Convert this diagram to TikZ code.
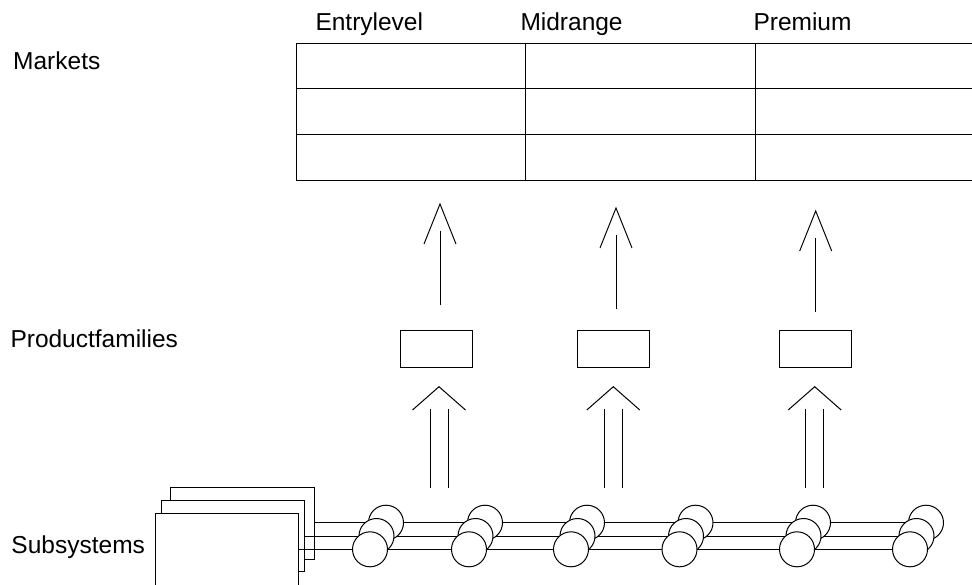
\documentclass[tikz,border=0pt]{standalone}
\usepackage{fontspec}
\setmainfont{Liberation Sans}
\begin{document}
\begin{tikzpicture}[x=1pt,y=-1pt,line width=1pt,
  lbl/.style={anchor=base west,inner sep=0pt,font=\fontsize{24.5}{29}\selectfont},
  cell/.style={draw,anchor=north west,inner sep=0pt},
  pbox/.style={draw,anchor=north west,inner sep=0pt,minimum width=72pt,minimum height=36.7pt},
  sbox/.style={draw,fill=white,anchor=north west,inner sep=0pt},
  gear/.style={draw,fill=white,circle,inner sep=0pt,minimum size=35pt},
  shaft/.style={line width=1pt},
  chev/.style={line width=1pt,line join=miter}]
\useasboundingbox (0,0) rectangle (972,584);
\clip (0,0) rectangle (972,584);

% labels
\node[lbl] (markets) at (12.7,69.3) {Markets};
\node[lbl] (pfam) at (10,347.3) {Productfamilies};
\node[lbl] (subs) at (11,553.3) {Subsystems};
\node[lbl] (entry) at (315,30.7) {Entrylevel};
\node[lbl] (mid) at (520,30.7) {Midrange};
\node[lbl] (prem) at (753,30.7) {Premium};

% table
\foreach \r/\y/\h in {1/43/45,2/88/46,3/134/46}{
  \node[cell,minimum width=229pt,minimum height=\h pt] (c\r a) at (296,\y) {};
  \node[cell,minimum width=230pt,minimum height=\h pt] (c\r b) at (525,\y) {};
  \node[cell,minimum width=225pt,minimum height=\h pt] (c\r c) at (755,\y) {};
}

% product family boxes
\node[pbox] (p1) at (400,330) {};
\node[pbox] (p2) at (576.7,330) {};
\node[pbox] (p3) at (778.7,330) {};

% upper arrows (product family -> market)
\foreach \i/\x/\t in {1/440/204,2/616/208,3/815.7/211}{
  \coordinate (ua\i) at (\x,\t+101);
  \coordinate (ub\i) at (\x,\t+27);
  \coordinate (ut\i) at (\x,\t);
  \draw[shaft] (ua\i) -- (ub\i);
  \draw[chev] ([xshift=-16pt,yshift=-40pt]ut\i) -- (ut\i) -- ([xshift=16pt,yshift=-40pt]ut\i);
}

% subsystem boxes
\node[sbox,minimum width=144pt,minimum height=72pt] (s3) at (170,487) {};
\node[sbox,minimum width=143pt,minimum height=70.7pt] (s2) at (161,500) {};
\node[sbox,minimum width=143.3pt,minimum height=80pt] (s1) at (154.7,513) {};

% shafts
\coordinate (e3) at (910+16,522.7);
\coordinate (e2) at (910+6.5,536);
\coordinate (e1) at (910,549.3);
\draw (s3.east |- 0,522.7) -- (e3);
\draw (s2.east |- 0,536) -- (e2);
\draw (s1.east |- 0,549.3) -- (e1);

% gears
\foreach \g/\f in {1/370,2/469,3/571,4/679.5,5/797,6/910}{
  \node[gear] (gb\g) at (\f+16,522.7) {};
  \node[gear] (gm\g) at (\f+6.5,536) {};
  \node[gear] (gf\g) at (\f,549.3) {};
}

% double arrows (subsystems -> product families)
\foreach \i/\x in {1/439,2/613.3,3/814.7}{
  \coordinate (dt\i) at (\x,386.7);
  \draw[shaft] (\x-9,488) -- (\x-9,409);
  \draw[shaft] (\x+9,488) -- (\x+9,409);
  \draw[chev] ([xshift=-26.5pt,yshift=-23.3pt]dt\i) -- (dt\i) -- ([xshift=26.5pt,yshift=-23.3pt]dt\i);
}
\end{tikzpicture}
\end{document}
